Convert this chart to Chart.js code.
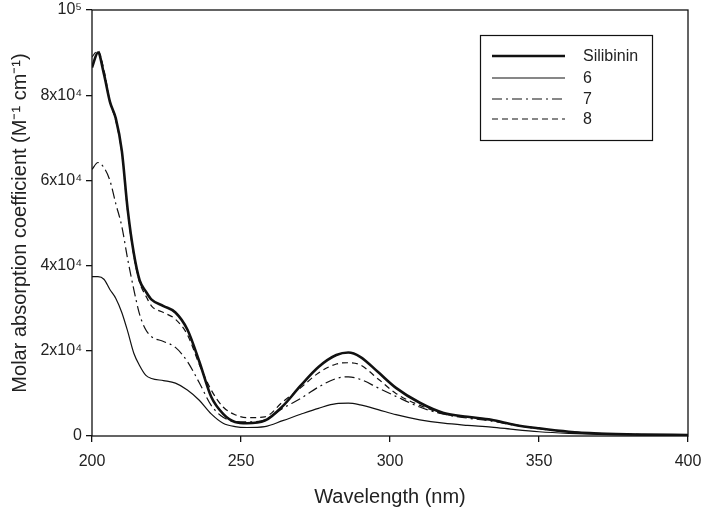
<!DOCTYPE html>
<html>
<head>
<meta charset="utf-8">
<script src="https://cdn.jsdelivr.net/npm/chart.js@4"></script>
<style>
  html, body { margin: 0; padding: 0; background: #fff; }
  #wrap { width: 704px; height: 509px; }
</style>
</head>
<body>
<div id="wrap"><canvas id="myChart"></canvas></div>
<script>
// wavelength grid (nm)
const wavelengths = [200, 202, 204, 206, 208, 210, 212, 214, 216, 218, 220, 224, 228, 232, 236, 240, 244, 248, 252, 258,
  264, 270, 276, 282, 286, 290, 296, 302, 310, 318, 326, 334, 342, 350, 360, 370, 385, 400];

// molar absorption coefficient, in units of 1000 M-1 cm-1
const silibinin = [86.5, 90, 85, 78.5, 74.5, 67, 53, 43, 36.5, 34, 32, 30.5, 29, 25, 17.5, 9.2, 5.2, 3.3, 3.0, 3.6,
  7, 11.8, 16.2, 19, 19.6, 18.6, 15, 11.3, 7.8, 5.4, 4.5, 3.8, 2.6, 1.8, 1.0, 0.6, 0.35, 0.25];
const comp6 = [37.4, 37.4, 36.8, 34.4, 32.3, 29, 24.5, 19.5, 16.5, 14.3, 13.5, 13, 12.4, 10.8, 8.4, 5.2, 3.0, 2.2, 2.0, 2.2,
  3.6, 5.1, 6.5, 7.6, 7.7, 7.3, 6.2, 5.0, 3.8, 3.0, 2.5, 2.1, 1.5, 1.0, 0.6, 0.35, 0.2, 0.15];
const comp7 = [62.6, 64.2, 63, 60, 54.5, 49.2, 41.4, 34.5, 28.5, 25, 23.3, 22.2, 20.8, 17.5, 12.5, 7.2, 4.4, 3.4, 3.3, 3.8,
  6.5, 8.8, 11.5, 13.5, 13.9, 13.3, 11.3, 9.3, 6.8, 5.1, 4.2, 3.5, 2.5, 1.7, 1.0, 0.55, 0.3, 0.2];
const comp8 = [89, 90.5, 86, 78.5, 74, 66.5, 52.5, 42.5, 36, 33, 30.5, 29, 27.4, 23.8, 16.8, 10.8, 6.8, 5.0, 4.3, 4.5,
  8, 11.3, 14.8, 16.9, 17.2, 16.7, 13.4, 10, 7.2, 5.2, 4.4, 3.7, 2.6, 1.8, 1.0, 0.6, 0.35, 0.25];

const seriesNames = ['Silibinin', '6', '7', '8'];
const yTickLabels = ['0', '2x10\u2074', '4x10\u2074', '6x10\u2074', '8x10\u2074', '10\u2075'];
const fontFamily = '"Liberation Sans", Arial, sans-serif';

function toPoints(vals) {
  return wavelengths.map((w, i) => ({ x: w, y: vals[i] * 1000 }));
}

const ink = '#111';

// frame around plot area + boxed legend
const framePlugin = {
  id: 'frame',
  afterDraw(chart) {
    const c = chart.ctx;
    const a = chart.chartArea;
    c.save();
    c.strokeStyle = ink;
    c.lineWidth = 1.3;
    c.strokeRect(a.left, a.top, a.right - a.left, a.bottom - a.top);

    // legend
    c.lineWidth = 1.2;
    c.strokeRect(480.5, 35.5, 172, 105);
    const rows = [56, 78, 99, 119];
    chart.data.datasets.forEach((ds, i) => {
      c.beginPath();
      c.setLineDash(ds.borderDash || []);
      c.lineWidth = ds.borderWidth;
      c.moveTo(492, rows[i]);
      c.lineTo(565, rows[i]);
      c.stroke();
      c.setLineDash([]);
      c.fillStyle = '#222';
      c.font = '16px ' + fontFamily;
      c.textBaseline = 'middle';
      c.fillText(ds.label, 583, rows[i] + 1);
    });
    c.restore();
  }
};

const ctx = document.getElementById('myChart');
const chart = new Chart(ctx, {
  type: 'line',
  data: {
    datasets: [
      { label: seriesNames[0], data: toPoints(silibinin), borderWidth: 2.6 },
      { label: seriesNames[1], data: toPoints(comp6), borderWidth: 1.2 },
      { label: seriesNames[2], data: toPoints(comp7), borderWidth: 1.2, borderDash: [10, 4, 2, 4] },
      { label: seriesNames[3], data: toPoints(comp8), borderWidth: 1.2, borderDash: [6, 4] }
    ].map(d => Object.assign({ borderColor: ink, pointRadius: 0, cubicInterpolationMode: 'monotone', fill: false }, d))
  },
  options: {
    responsive: true,
    maintainAspectRatio: false,
    animation: false,
    layout: { padding: { top: 10, right: 16, left: 0, bottom: 0 } },
    plugins: {
      legend: { display: false },
      tooltip: { enabled: false }
    },
    scales: {
      x: {
        type: 'linear',
        min: 200,
        max: 400,
        afterFit(s) { s.height = 73; s.paddingLeft = 0; s.paddingRight = 0; },
        ticks: { stepSize: 50, color: '#222', padding: 10, font: { family: fontFamily, size: 16 } },
        grid: { drawOnChartArea: false, tickLength: 6, color: ink, lineWidth: 1.3 },
        border: { display: false },
        title: {
          display: true, text: 'Wavelength (nm)', color: '#222',
          font: { family: fontFamily, size: 20 }, padding: { top: 0, bottom: 0 }
        }
      },
      y: {
        min: 0,
        max: 100000,
        afterFit(s) { s.width = 92; s.paddingTop = 0; s.paddingBottom = 0; },
        ticks: {
          stepSize: 20000, color: '#222', padding: 4, font: { family: fontFamily, size: 16 },
          callback: (v) => yTickLabels[Math.round(v / 20000)]
        },
        grid: { drawOnChartArea: false, tickLength: 6, color: ink, lineWidth: 1.3 },
        border: { display: false },
        title: {
          display: true, text: 'Molar absorption coefficient (M\u207B\u00B9 cm\u207B\u00B9)', color: '#222',
          font: { family: fontFamily, size: 20 }, padding: { top: 8, bottom: 0 }
        }
      }
    }
  },
  plugins: [framePlugin]
});
</script>
</body>
</html>
